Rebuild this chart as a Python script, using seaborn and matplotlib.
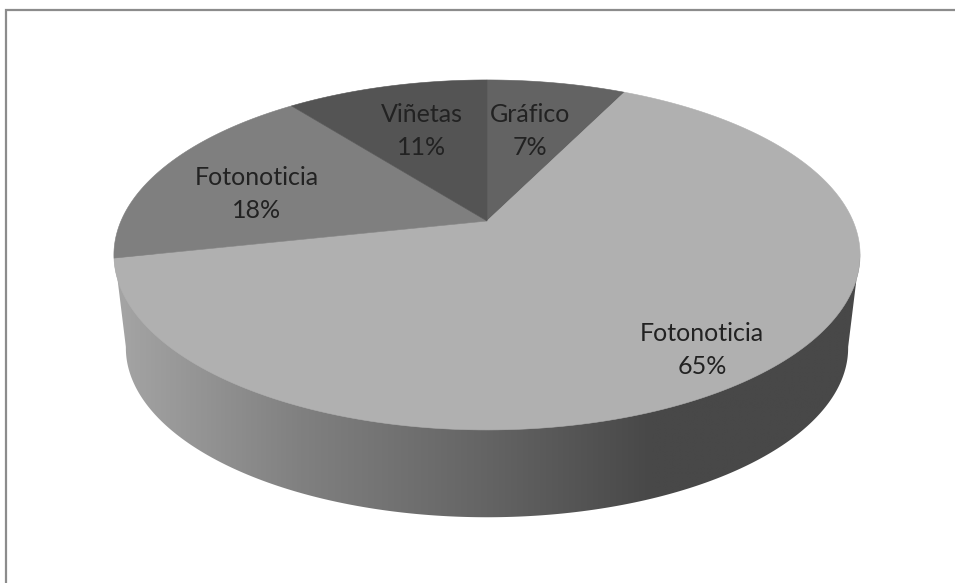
import numpy as np
import matplotlib
matplotlib.use("Agg")
import matplotlib.pyplot as plt
from matplotlib.colors import LinearSegmentedColormap
from matplotlib.patches import Polygon
import seaborn as sns

categories = ["Gráfico", "Fotonoticia", "Fotonoticia", "Viñetas"]
values = [7.3, 64.6, 17.9, 10.6]
percent_labels = ["7%", "65%", "18%", "11%"]
slice_colors = ["#636363", "#B0B0B0", "#7F7F7F", "#545454"]
label_pos = [(530, 131), (702, 350), (257, 194), (422, 131)]

sns.set_theme(style="white")
plt.rcParams["font.family"] = ["Lato", "DejaVu Sans"]

fig = plt.figure(figsize=(9.55, 5.83), dpi=100, facecolor="white")
ax = fig.add_axes([0, 0, 1, 1])
ax.set_xlim(0, 955)
ax.set_ylim(583, 0)
ax.axis("off")

CX, CY, A, B, K = 487, 221, 366, 168.4, 0.194


def project(theta, cy=CY, scale=1.0):
    X, Y = np.cos(theta), np.sin(theta)
    d = 1 + K * Y
    return CX + scale * A * X / d, cy - scale * B * Y / d


# wall
BOT_CY, BOT_S = 315, 0.968
t = np.linspace(np.pi + 0.19, 2 * np.pi - 0.19, 300)
bx, by = project(t, BOT_CY, BOT_S)
rx, ry = project(np.linspace(-0.33, -0.19, 10))
lx, ly = project(np.linspace(np.pi + 0.19, np.pi + 0.33, 10))
wall_x = np.r_[bx, rx, lx]
wall_y = np.r_[by, ry, ly]
wall = Polygon(np.c_[wall_x, wall_y], closed=True, transform=ax.transData,
               facecolor="none", edgecolor="none")
ax.add_patch(wall)
stops = [(0.0, 165), (0.25, 128), (0.5, 100), (0.72, 72), (1.0, 72)]
cmap = LinearSegmentedColormap.from_list(
    "wall", [(p, (g / 255, g / 255, g / 255)) for p, g in stops])
img = ax.imshow(np.linspace(0, 1, 512)[None, :], cmap=cmap, aspect="auto",
                extent=(114, 860, 520, 240), zorder=1, interpolation="bilinear")
img.set_clip_path(wall)
ax.set_xlim(0, 955)
ax.set_ylim(583, 0)

# top face
fractions = np.cumsum([0] + values) / sum(values)
for i, col in enumerate(slice_colors):
    a0 = np.pi / 2 - 2 * np.pi * fractions[i]
    a1 = np.pi / 2 - 2 * np.pi * fractions[i + 1]
    th = np.linspace(a0, a1, 200)
    x, y = project(th)
    ax.fill(np.r_[CX, x], np.r_[CY, y], color=col, lw=0.4, zorder=2)

for (px, py), name, pct in zip(label_pos, categories, percent_labels):
    ax.text(px, py, f"{name}\n{pct}", ha="center", va="center", fontsize=18,
            color="#222222", linespacing=1.5, zorder=3)

# frame: left and top edges only
ax.plot([6, 6, 955], [583, 10, 10], color="#8C8C8C", lw=1.6, zorder=4,
        solid_joinstyle="miter")

fig.savefig("out.png", dpi=100, facecolor="white")
